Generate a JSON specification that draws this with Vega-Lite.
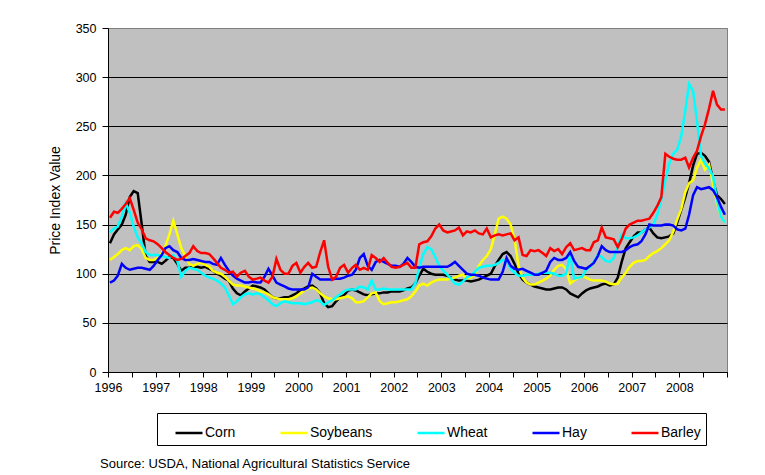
{
"$schema":"https://vega.github.io/schema/vega-lite/v6.json",
"width":619,"height":344,
"autosize":{"type":"none"},
"padding":{"left":108,"top":28,"right":38,"bottom":103},
"background":"#FFFFFF",
"title":{"text":"Source: USDA, National Agricultural Statistics Service","orient":"bottom","anchor":"start","frame":"group","dx":-8,"offset":12,"fontSize":13,"fontWeight":"normal","font":"Liberation Sans","color":"#000000"},
"config":{
"view":{"fill":"#C0C0C0","stroke":"#808080","strokeWidth":1},
"font":"Liberation Sans",
"axis":{"domainColor":"#000000","tickColor":"#000000","labelColor":"#000000","titleColor":"#000000","labelFont":"Liberation Sans","titleFont":"Liberation Sans"}
},
"data":{"values":[
{"d":"1996-01-16","s":"Corn","v":131},{"d":"1996-02-16","s":"Corn","v":140},{"d":"1996-03-16","s":"Corn","v":145},{"d":"1996-04-16","s":"Corn","v":150},{"d":"1996-05-16","s":"Corn","v":160},{"d":"1996-06-16","s":"Corn","v":178},{"d":"1996-07-16","s":"Corn","v":184},{"d":"1996-08-16","s":"Corn","v":182},{"d":"1996-09-16","s":"Corn","v":150},{"d":"1996-10-16","s":"Corn","v":118},{"d":"1996-11-16","s":"Corn","v":112},{"d":"1996-12-16","s":"Corn","v":112},
{"d":"1997-01-16","s":"Corn","v":112},{"d":"1997-02-16","s":"Corn","v":110},{"d":"1997-03-16","s":"Corn","v":113},{"d":"1997-04-16","s":"Corn","v":117},{"d":"1997-05-16","s":"Corn","v":116},{"d":"1997-06-16","s":"Corn","v":110},{"d":"1997-07-16","s":"Corn","v":103},{"d":"1997-08-16","s":"Corn","v":106},{"d":"1997-09-16","s":"Corn","v":106},{"d":"1997-10-16","s":"Corn","v":107},{"d":"1997-11-16","s":"Corn","v":107},{"d":"1997-12-16","s":"Corn","v":106},
{"d":"1998-01-16","s":"Corn","v":107},{"d":"1998-02-16","s":"Corn","v":105},{"d":"1998-03-16","s":"Corn","v":103},{"d":"1998-04-16","s":"Corn","v":100},{"d":"1998-05-16","s":"Corn","v":98},{"d":"1998-06-16","s":"Corn","v":95},{"d":"1998-07-16","s":"Corn","v":93},{"d":"1998-08-16","s":"Corn","v":85},{"d":"1998-09-16","s":"Corn","v":80},{"d":"1998-10-16","s":"Corn","v":78},{"d":"1998-11-16","s":"Corn","v":82},{"d":"1998-12-16","s":"Corn","v":85},
{"d":"1999-01-16","s":"Corn","v":88},{"d":"1999-02-16","s":"Corn","v":87},{"d":"1999-03-16","s":"Corn","v":86},{"d":"1999-04-16","s":"Corn","v":84},{"d":"1999-05-16","s":"Corn","v":80},{"d":"1999-06-16","s":"Corn","v":76},{"d":"1999-07-16","s":"Corn","v":75},{"d":"1999-08-16","s":"Corn","v":75},{"d":"1999-09-16","s":"Corn","v":76},{"d":"1999-10-16","s":"Corn","v":76},{"d":"1999-11-16","s":"Corn","v":78},{"d":"1999-12-16","s":"Corn","v":80},
{"d":"2000-01-16","s":"Corn","v":83},{"d":"2000-02-16","s":"Corn","v":85},{"d":"2000-03-16","s":"Corn","v":87},{"d":"2000-04-16","s":"Corn","v":88},{"d":"2000-05-16","s":"Corn","v":85},{"d":"2000-06-16","s":"Corn","v":80},{"d":"2000-07-16","s":"Corn","v":70},{"d":"2000-08-16","s":"Corn","v":66},{"d":"2000-09-16","s":"Corn","v":67},{"d":"2000-10-16","s":"Corn","v":72},{"d":"2000-11-16","s":"Corn","v":76},{"d":"2000-12-16","s":"Corn","v":78},
{"d":"2001-01-16","s":"Corn","v":83},{"d":"2001-02-16","s":"Corn","v":84},{"d":"2001-03-16","s":"Corn","v":83},{"d":"2001-04-16","s":"Corn","v":81},{"d":"2001-05-16","s":"Corn","v":79},{"d":"2001-06-16","s":"Corn","v":78},{"d":"2001-07-16","s":"Corn","v":79},{"d":"2001-08-16","s":"Corn","v":80},{"d":"2001-09-16","s":"Corn","v":80},{"d":"2001-10-16","s":"Corn","v":81},{"d":"2001-11-16","s":"Corn","v":81},{"d":"2001-12-16","s":"Corn","v":82},
{"d":"2002-01-16","s":"Corn","v":82},{"d":"2002-02-16","s":"Corn","v":82},{"d":"2002-03-16","s":"Corn","v":83},{"d":"2002-04-16","s":"Corn","v":85},{"d":"2002-05-16","s":"Corn","v":86},{"d":"2002-06-16","s":"Corn","v":90},{"d":"2002-07-16","s":"Corn","v":98},{"d":"2002-08-16","s":"Corn","v":105},{"d":"2002-09-16","s":"Corn","v":102},{"d":"2002-10-16","s":"Corn","v":100},{"d":"2002-11-16","s":"Corn","v":99},{"d":"2002-12-16","s":"Corn","v":99},
{"d":"2003-01-16","s":"Corn","v":99},{"d":"2003-02-16","s":"Corn","v":98},{"d":"2003-03-16","s":"Corn","v":96},{"d":"2003-04-16","s":"Corn","v":94},{"d":"2003-05-16","s":"Corn","v":93},{"d":"2003-06-16","s":"Corn","v":93},{"d":"2003-07-16","s":"Corn","v":93},{"d":"2003-08-16","s":"Corn","v":92},{"d":"2003-09-16","s":"Corn","v":93},{"d":"2003-10-16","s":"Corn","v":94},{"d":"2003-11-16","s":"Corn","v":96},{"d":"2003-12-16","s":"Corn","v":98},
{"d":"2004-01-16","s":"Corn","v":100},{"d":"2004-02-16","s":"Corn","v":108},{"d":"2004-03-16","s":"Corn","v":114},{"d":"2004-04-16","s":"Corn","v":120},{"d":"2004-05-16","s":"Corn","v":122},{"d":"2004-06-16","s":"Corn","v":118},{"d":"2004-07-16","s":"Corn","v":110},{"d":"2004-08-16","s":"Corn","v":100},{"d":"2004-09-16","s":"Corn","v":94},{"d":"2004-10-16","s":"Corn","v":91},{"d":"2004-11-16","s":"Corn","v":89},{"d":"2004-12-16","s":"Corn","v":87},
{"d":"2005-01-16","s":"Corn","v":86},{"d":"2005-02-16","s":"Corn","v":85},{"d":"2005-03-16","s":"Corn","v":84},{"d":"2005-04-16","s":"Corn","v":84},{"d":"2005-05-16","s":"Corn","v":85},{"d":"2005-06-16","s":"Corn","v":86},{"d":"2005-07-16","s":"Corn","v":86},{"d":"2005-08-16","s":"Corn","v":84},{"d":"2005-09-16","s":"Corn","v":80},{"d":"2005-10-16","s":"Corn","v":78},{"d":"2005-11-16","s":"Corn","v":76},{"d":"2005-12-16","s":"Corn","v":80},
{"d":"2006-01-16","s":"Corn","v":83},{"d":"2006-02-16","s":"Corn","v":85},{"d":"2006-03-16","s":"Corn","v":86},{"d":"2006-04-16","s":"Corn","v":87},{"d":"2006-05-16","s":"Corn","v":89},{"d":"2006-06-16","s":"Corn","v":90},{"d":"2006-07-16","s":"Corn","v":88},{"d":"2006-08-16","s":"Corn","v":89},{"d":"2006-09-16","s":"Corn","v":96},{"d":"2006-10-16","s":"Corn","v":112},{"d":"2006-11-16","s":"Corn","v":126},{"d":"2006-12-16","s":"Corn","v":132},
{"d":"2007-01-16","s":"Corn","v":138},{"d":"2007-02-16","s":"Corn","v":142},{"d":"2007-03-16","s":"Corn","v":142},{"d":"2007-04-16","s":"Corn","v":145},{"d":"2007-05-16","s":"Corn","v":147},{"d":"2007-06-16","s":"Corn","v":141},{"d":"2007-07-16","s":"Corn","v":137},{"d":"2007-08-16","s":"Corn","v":136},{"d":"2007-09-16","s":"Corn","v":137},{"d":"2007-10-16","s":"Corn","v":138},{"d":"2007-11-16","s":"Corn","v":141},{"d":"2007-12-16","s":"Corn","v":152},
{"d":"2008-01-16","s":"Corn","v":165},{"d":"2008-02-16","s":"Corn","v":178},{"d":"2008-03-16","s":"Corn","v":192},{"d":"2008-04-16","s":"Corn","v":210},{"d":"2008-05-16","s":"Corn","v":222},{"d":"2008-06-16","s":"Corn","v":223},{"d":"2008-07-16","s":"Corn","v":220},{"d":"2008-08-16","s":"Corn","v":214},{"d":"2008-09-16","s":"Corn","v":195},{"d":"2008-10-16","s":"Corn","v":180},{"d":"2008-11-16","s":"Corn","v":176},{"d":"2008-12-16","s":"Corn","v":171},
{"d":"1996-01-16","s":"Soybeans","v":114},{"d":"1996-02-16","s":"Soybeans","v":117},{"d":"1996-03-16","s":"Soybeans","v":120},{"d":"1996-04-16","s":"Soybeans","v":124},{"d":"1996-05-16","s":"Soybeans","v":126},{"d":"1996-06-16","s":"Soybeans","v":124},{"d":"1996-07-16","s":"Soybeans","v":128},{"d":"1996-08-16","s":"Soybeans","v":129},{"d":"1996-09-16","s":"Soybeans","v":125},{"d":"1996-10-16","s":"Soybeans","v":116},{"d":"1996-11-16","s":"Soybeans","v":114},{"d":"1996-12-16","s":"Soybeans","v":114},
{"d":"1997-01-16","s":"Soybeans","v":116},{"d":"1997-02-16","s":"Soybeans","v":121},{"d":"1997-03-16","s":"Soybeans","v":128},{"d":"1997-04-16","s":"Soybeans","v":140},{"d":"1997-05-16","s":"Soybeans","v":154},{"d":"1997-06-16","s":"Soybeans","v":140},{"d":"1997-07-16","s":"Soybeans","v":126},{"d":"1997-08-16","s":"Soybeans","v":118},{"d":"1997-09-16","s":"Soybeans","v":110},{"d":"1997-10-16","s":"Soybeans","v":108},{"d":"1997-11-16","s":"Soybeans","v":110},{"d":"1997-12-16","s":"Soybeans","v":111},
{"d":"1998-01-16","s":"Soybeans","v":109},{"d":"1998-02-16","s":"Soybeans","v":107},{"d":"1998-03-16","s":"Soybeans","v":103},{"d":"1998-04-16","s":"Soybeans","v":101},{"d":"1998-05-16","s":"Soybeans","v":100},{"d":"1998-06-16","s":"Soybeans","v":97},{"d":"1998-07-16","s":"Soybeans","v":93},{"d":"1998-08-16","s":"Soybeans","v":89},{"d":"1998-09-16","s":"Soybeans","v":88},{"d":"1998-10-16","s":"Soybeans","v":88},{"d":"1998-11-16","s":"Soybeans","v":87},{"d":"1998-12-16","s":"Soybeans","v":86},
{"d":"1999-01-16","s":"Soybeans","v":85},{"d":"1999-02-16","s":"Soybeans","v":84},{"d":"1999-03-16","s":"Soybeans","v":82},{"d":"1999-04-16","s":"Soybeans","v":81},{"d":"1999-05-16","s":"Soybeans","v":79},{"d":"1999-06-16","s":"Soybeans","v":76},{"d":"1999-07-16","s":"Soybeans","v":75},{"d":"1999-08-16","s":"Soybeans","v":74},{"d":"1999-09-16","s":"Soybeans","v":74},{"d":"1999-10-16","s":"Soybeans","v":74},{"d":"1999-11-16","s":"Soybeans","v":75},{"d":"1999-12-16","s":"Soybeans","v":77},
{"d":"2000-01-16","s":"Soybeans","v":80},{"d":"2000-02-16","s":"Soybeans","v":83},{"d":"2000-03-16","s":"Soybeans","v":85},{"d":"2000-04-16","s":"Soybeans","v":86},{"d":"2000-05-16","s":"Soybeans","v":84},{"d":"2000-06-16","s":"Soybeans","v":80},{"d":"2000-07-16","s":"Soybeans","v":77},{"d":"2000-08-16","s":"Soybeans","v":75},{"d":"2000-09-16","s":"Soybeans","v":74},{"d":"2000-10-16","s":"Soybeans","v":74},{"d":"2000-11-16","s":"Soybeans","v":75},{"d":"2000-12-16","s":"Soybeans","v":76},
{"d":"2001-01-16","s":"Soybeans","v":77},{"d":"2001-02-16","s":"Soybeans","v":75},{"d":"2001-03-16","s":"Soybeans","v":71},{"d":"2001-04-16","s":"Soybeans","v":71},{"d":"2001-05-16","s":"Soybeans","v":72},{"d":"2001-06-16","s":"Soybeans","v":76},{"d":"2001-07-16","s":"Soybeans","v":80},{"d":"2001-08-16","s":"Soybeans","v":81},{"d":"2001-09-16","s":"Soybeans","v":72},{"d":"2001-10-16","s":"Soybeans","v":69},{"d":"2001-11-16","s":"Soybeans","v":70},{"d":"2001-12-16","s":"Soybeans","v":71},
{"d":"2002-01-16","s":"Soybeans","v":71},{"d":"2002-02-16","s":"Soybeans","v":72},{"d":"2002-03-16","s":"Soybeans","v":73},{"d":"2002-04-16","s":"Soybeans","v":74},{"d":"2002-05-16","s":"Soybeans","v":77},{"d":"2002-06-16","s":"Soybeans","v":82},{"d":"2002-07-16","s":"Soybeans","v":88},{"d":"2002-08-16","s":"Soybeans","v":90},{"d":"2002-09-16","s":"Soybeans","v":88},{"d":"2002-10-16","s":"Soybeans","v":91},{"d":"2002-11-16","s":"Soybeans","v":93},{"d":"2002-12-16","s":"Soybeans","v":94},
{"d":"2003-01-16","s":"Soybeans","v":94},{"d":"2003-02-16","s":"Soybeans","v":94},{"d":"2003-03-16","s":"Soybeans","v":95},{"d":"2003-04-16","s":"Soybeans","v":96},{"d":"2003-05-16","s":"Soybeans","v":98},{"d":"2003-06-16","s":"Soybeans","v":99},{"d":"2003-07-16","s":"Soybeans","v":95},{"d":"2003-08-16","s":"Soybeans","v":96},{"d":"2003-09-16","s":"Soybeans","v":99},{"d":"2003-10-16","s":"Soybeans","v":108},{"d":"2003-11-16","s":"Soybeans","v":114},{"d":"2003-12-16","s":"Soybeans","v":118},
{"d":"2004-01-16","s":"Soybeans","v":125},{"d":"2004-02-16","s":"Soybeans","v":140},{"d":"2004-03-16","s":"Soybeans","v":156},{"d":"2004-04-16","s":"Soybeans","v":158},{"d":"2004-05-16","s":"Soybeans","v":156},{"d":"2004-06-16","s":"Soybeans","v":150},{"d":"2004-07-16","s":"Soybeans","v":135},{"d":"2004-08-16","s":"Soybeans","v":108},{"d":"2004-09-16","s":"Soybeans","v":96},{"d":"2004-10-16","s":"Soybeans","v":91},{"d":"2004-11-16","s":"Soybeans","v":89},{"d":"2004-12-16","s":"Soybeans","v":89},
{"d":"2005-01-16","s":"Soybeans","v":91},{"d":"2005-02-16","s":"Soybeans","v":93},{"d":"2005-03-16","s":"Soybeans","v":95},{"d":"2005-04-16","s":"Soybeans","v":98},{"d":"2005-05-16","s":"Soybeans","v":104},{"d":"2005-06-16","s":"Soybeans","v":108},{"d":"2005-07-16","s":"Soybeans","v":109},{"d":"2005-08-16","s":"Soybeans","v":105},{"d":"2005-09-16","s":"Soybeans","v":90},{"d":"2005-10-16","s":"Soybeans","v":93},{"d":"2005-11-16","s":"Soybeans","v":96},{"d":"2005-12-16","s":"Soybeans","v":97},
{"d":"2006-01-16","s":"Soybeans","v":96},{"d":"2006-02-16","s":"Soybeans","v":94},{"d":"2006-03-16","s":"Soybeans","v":93},{"d":"2006-04-16","s":"Soybeans","v":93},{"d":"2006-05-16","s":"Soybeans","v":93},{"d":"2006-06-16","s":"Soybeans","v":92},{"d":"2006-07-16","s":"Soybeans","v":90},{"d":"2006-08-16","s":"Soybeans","v":89},{"d":"2006-09-16","s":"Soybeans","v":90},{"d":"2006-10-16","s":"Soybeans","v":96},{"d":"2006-11-16","s":"Soybeans","v":101},{"d":"2006-12-16","s":"Soybeans","v":107},
{"d":"2007-01-16","s":"Soybeans","v":111},{"d":"2007-02-16","s":"Soybeans","v":113},{"d":"2007-03-16","s":"Soybeans","v":113},{"d":"2007-04-16","s":"Soybeans","v":114},{"d":"2007-05-16","s":"Soybeans","v":118},{"d":"2007-06-16","s":"Soybeans","v":121},{"d":"2007-07-16","s":"Soybeans","v":123},{"d":"2007-08-16","s":"Soybeans","v":126},{"d":"2007-09-16","s":"Soybeans","v":130},{"d":"2007-10-16","s":"Soybeans","v":134},{"d":"2007-11-16","s":"Soybeans","v":143},{"d":"2007-12-16","s":"Soybeans","v":155},
{"d":"2008-01-16","s":"Soybeans","v":166},{"d":"2008-02-16","s":"Soybeans","v":183},{"d":"2008-03-16","s":"Soybeans","v":192},{"d":"2008-04-16","s":"Soybeans","v":195},{"d":"2008-05-16","s":"Soybeans","v":208},{"d":"2008-06-16","s":"Soybeans","v":216},{"d":"2008-07-16","s":"Soybeans","v":206},{"d":"2008-08-16","s":"Soybeans","v":211},{"d":"2008-09-16","s":"Soybeans","v":191},{"d":"2008-10-16","s":"Soybeans","v":172},{"d":"2008-11-16","s":"Soybeans","v":158},{"d":"2008-12-16","s":"Soybeans","v":152},
{"d":"1996-01-16","s":"Wheat","v":142},{"d":"1996-02-16","s":"Wheat","v":146},{"d":"1996-03-16","s":"Wheat","v":148},{"d":"1996-04-16","s":"Wheat","v":158},{"d":"1996-05-16","s":"Wheat","v":172},{"d":"1996-06-16","s":"Wheat","v":162},{"d":"1996-07-16","s":"Wheat","v":148},{"d":"1996-08-16","s":"Wheat","v":137},{"d":"1996-09-16","s":"Wheat","v":131},{"d":"1996-10-16","s":"Wheat","v":122},{"d":"1996-11-16","s":"Wheat","v":119},{"d":"1996-12-16","s":"Wheat","v":119},
{"d":"1997-01-16","s":"Wheat","v":119},{"d":"1997-02-16","s":"Wheat","v":118},{"d":"1997-03-16","s":"Wheat","v":117},{"d":"1997-04-16","s":"Wheat","v":116},{"d":"1997-05-16","s":"Wheat","v":119},{"d":"1997-06-16","s":"Wheat","v":113},{"d":"1997-07-16","s":"Wheat","v":97},{"d":"1997-08-16","s":"Wheat","v":103},{"d":"1997-09-16","s":"Wheat","v":106},{"d":"1997-10-16","s":"Wheat","v":105},{"d":"1997-11-16","s":"Wheat","v":104},{"d":"1997-12-16","s":"Wheat","v":101},
{"d":"1998-01-16","s":"Wheat","v":98},{"d":"1998-02-16","s":"Wheat","v":96},{"d":"1998-03-16","s":"Wheat","v":95},{"d":"1998-04-16","s":"Wheat","v":93},{"d":"1998-05-16","s":"Wheat","v":90},{"d":"1998-06-16","s":"Wheat","v":86},{"d":"1998-07-16","s":"Wheat","v":78},{"d":"1998-08-16","s":"Wheat","v":69},{"d":"1998-09-16","s":"Wheat","v":72},{"d":"1998-10-16","s":"Wheat","v":76},{"d":"1998-11-16","s":"Wheat","v":79},{"d":"1998-12-16","s":"Wheat","v":80},
{"d":"1999-01-16","s":"Wheat","v":79},{"d":"1999-02-16","s":"Wheat","v":80},{"d":"1999-03-16","s":"Wheat","v":79},{"d":"1999-04-16","s":"Wheat","v":76},{"d":"1999-05-16","s":"Wheat","v":73},{"d":"1999-06-16","s":"Wheat","v":69},{"d":"1999-07-16","s":"Wheat","v":67},{"d":"1999-08-16","s":"Wheat","v":70},{"d":"1999-09-16","s":"Wheat","v":72},{"d":"1999-10-16","s":"Wheat","v":71},{"d":"1999-11-16","s":"Wheat","v":70},{"d":"1999-12-16","s":"Wheat","v":70},
{"d":"2000-01-16","s":"Wheat","v":70},{"d":"2000-02-16","s":"Wheat","v":69},{"d":"2000-03-16","s":"Wheat","v":70},{"d":"2000-04-16","s":"Wheat","v":71},{"d":"2000-05-16","s":"Wheat","v":73},{"d":"2000-06-16","s":"Wheat","v":72},{"d":"2000-07-16","s":"Wheat","v":68},{"d":"2000-08-16","s":"Wheat","v":71},{"d":"2000-09-16","s":"Wheat","v":73},{"d":"2000-10-16","s":"Wheat","v":76},{"d":"2000-11-16","s":"Wheat","v":79},{"d":"2000-12-16","s":"Wheat","v":82},
{"d":"2001-01-16","s":"Wheat","v":84},{"d":"2001-02-16","s":"Wheat","v":84},{"d":"2001-03-16","s":"Wheat","v":84},{"d":"2001-04-16","s":"Wheat","v":87},{"d":"2001-05-16","s":"Wheat","v":86},{"d":"2001-06-16","s":"Wheat","v":84},{"d":"2001-07-16","s":"Wheat","v":93},{"d":"2001-08-16","s":"Wheat","v":84},{"d":"2001-09-16","s":"Wheat","v":84},{"d":"2001-10-16","s":"Wheat","v":85},{"d":"2001-11-16","s":"Wheat","v":84},{"d":"2001-12-16","s":"Wheat","v":84},
{"d":"2002-01-16","s":"Wheat","v":84},{"d":"2002-02-16","s":"Wheat","v":84},{"d":"2002-03-16","s":"Wheat","v":84},{"d":"2002-04-16","s":"Wheat","v":84},{"d":"2002-05-16","s":"Wheat","v":84},{"d":"2002-06-16","s":"Wheat","v":90},{"d":"2002-07-16","s":"Wheat","v":106},{"d":"2002-08-16","s":"Wheat","v":120},{"d":"2002-09-16","s":"Wheat","v":127},{"d":"2002-10-16","s":"Wheat","v":125},{"d":"2002-11-16","s":"Wheat","v":117},{"d":"2002-12-16","s":"Wheat","v":108},
{"d":"2003-01-16","s":"Wheat","v":103},{"d":"2003-02-16","s":"Wheat","v":99},{"d":"2003-03-16","s":"Wheat","v":95},{"d":"2003-04-16","s":"Wheat","v":90},{"d":"2003-05-16","s":"Wheat","v":89},{"d":"2003-06-16","s":"Wheat","v":92},{"d":"2003-07-16","s":"Wheat","v":96},{"d":"2003-08-16","s":"Wheat","v":98},{"d":"2003-09-16","s":"Wheat","v":102},{"d":"2003-10-16","s":"Wheat","v":106},{"d":"2003-11-16","s":"Wheat","v":107},{"d":"2003-12-16","s":"Wheat","v":108},
{"d":"2004-01-16","s":"Wheat","v":108},{"d":"2004-02-16","s":"Wheat","v":109},{"d":"2004-03-16","s":"Wheat","v":111},{"d":"2004-04-16","s":"Wheat","v":114},{"d":"2004-05-16","s":"Wheat","v":113},{"d":"2004-06-16","s":"Wheat","v":105},{"d":"2004-07-16","s":"Wheat","v":101},{"d":"2004-08-16","s":"Wheat","v":98},{"d":"2004-09-16","s":"Wheat","v":98},{"d":"2004-10-16","s":"Wheat","v":99},{"d":"2004-11-16","s":"Wheat","v":99},{"d":"2004-12-16","s":"Wheat","v":99},
{"d":"2005-01-16","s":"Wheat","v":100},{"d":"2005-02-16","s":"Wheat","v":101},{"d":"2005-03-16","s":"Wheat","v":101},{"d":"2005-04-16","s":"Wheat","v":101},{"d":"2005-05-16","s":"Wheat","v":100},{"d":"2005-06-16","s":"Wheat","v":98},{"d":"2005-07-16","s":"Wheat","v":98},{"d":"2005-08-16","s":"Wheat","v":100},{"d":"2005-09-16","s":"Wheat","v":120},{"d":"2005-10-16","s":"Wheat","v":95},{"d":"2005-11-16","s":"Wheat","v":96},{"d":"2005-12-16","s":"Wheat","v":97},
{"d":"2006-01-16","s":"Wheat","v":104},{"d":"2006-02-16","s":"Wheat","v":107},{"d":"2006-03-16","s":"Wheat","v":112},{"d":"2006-04-16","s":"Wheat","v":119},{"d":"2006-05-16","s":"Wheat","v":117},{"d":"2006-06-16","s":"Wheat","v":113},{"d":"2006-07-16","s":"Wheat","v":112},{"d":"2006-08-16","s":"Wheat","v":116},{"d":"2006-09-16","s":"Wheat","v":128},{"d":"2006-10-16","s":"Wheat","v":140},{"d":"2006-11-16","s":"Wheat","v":136},{"d":"2006-12-16","s":"Wheat","v":136},
{"d":"2007-01-16","s":"Wheat","v":137},{"d":"2007-02-16","s":"Wheat","v":139},{"d":"2007-03-16","s":"Wheat","v":142},{"d":"2007-04-16","s":"Wheat","v":145},{"d":"2007-05-16","s":"Wheat","v":147},{"d":"2007-06-16","s":"Wheat","v":150},{"d":"2007-07-16","s":"Wheat","v":160},{"d":"2007-08-16","s":"Wheat","v":175},{"d":"2007-09-16","s":"Wheat","v":195},{"d":"2007-10-16","s":"Wheat","v":212},{"d":"2007-11-16","s":"Wheat","v":222},{"d":"2007-12-16","s":"Wheat","v":226},
{"d":"2008-01-16","s":"Wheat","v":240},{"d":"2008-02-16","s":"Wheat","v":266},{"d":"2008-03-16","s":"Wheat","v":293},{"d":"2008-04-16","s":"Wheat","v":286},{"d":"2008-05-16","s":"Wheat","v":255},{"d":"2008-06-16","s":"Wheat","v":220},{"d":"2008-07-16","s":"Wheat","v":212},{"d":"2008-08-16","s":"Wheat","v":207},{"d":"2008-09-16","s":"Wheat","v":199},{"d":"2008-10-16","s":"Wheat","v":175},{"d":"2008-11-16","s":"Wheat","v":158},{"d":"2008-12-16","s":"Wheat","v":152},
{"d":"1996-01-16","s":"Hay","v":91},{"d":"1996-02-16","s":"Hay","v":93},{"d":"1996-03-16","s":"Hay","v":98},{"d":"1996-04-16","s":"Hay","v":110},{"d":"1996-05-16","s":"Hay","v":106},{"d":"1996-06-16","s":"Hay","v":104},{"d":"1996-07-16","s":"Hay","v":105},{"d":"1996-08-16","s":"Hay","v":106},{"d":"1996-09-16","s":"Hay","v":106},{"d":"1996-10-16","s":"Hay","v":105},{"d":"1996-11-16","s":"Hay","v":104},{"d":"1996-12-16","s":"Hay","v":108},
{"d":"1997-01-16","s":"Hay","v":114},{"d":"1997-02-16","s":"Hay","v":119},{"d":"1997-03-16","s":"Hay","v":126},{"d":"1997-04-16","s":"Hay","v":128},{"d":"1997-05-16","s":"Hay","v":124},{"d":"1997-06-16","s":"Hay","v":122},{"d":"1997-07-16","s":"Hay","v":116},{"d":"1997-08-16","s":"Hay","v":114},{"d":"1997-09-16","s":"Hay","v":114},{"d":"1997-10-16","s":"Hay","v":115},{"d":"1997-11-16","s":"Hay","v":114},{"d":"1997-12-16","s":"Hay","v":113},
{"d":"1998-01-16","s":"Hay","v":112},{"d":"1998-02-16","s":"Hay","v":112},{"d":"1998-03-16","s":"Hay","v":110},{"d":"1998-04-16","s":"Hay","v":109},{"d":"1998-05-16","s":"Hay","v":116},{"d":"1998-06-16","s":"Hay","v":109},{"d":"1998-07-16","s":"Hay","v":103},{"d":"1998-08-16","s":"Hay","v":98},{"d":"1998-09-16","s":"Hay","v":95},{"d":"1998-10-16","s":"Hay","v":93},{"d":"1998-11-16","s":"Hay","v":91},{"d":"1998-12-16","s":"Hay","v":91},
{"d":"1999-01-16","s":"Hay","v":92},{"d":"1999-02-16","s":"Hay","v":91},{"d":"1999-03-16","s":"Hay","v":91},{"d":"1999-04-16","s":"Hay","v":97},{"d":"1999-05-16","s":"Hay","v":105},{"d":"1999-06-16","s":"Hay","v":98},{"d":"1999-07-16","s":"Hay","v":91},{"d":"1999-08-16","s":"Hay","v":89},{"d":"1999-09-16","s":"Hay","v":87},{"d":"1999-10-16","s":"Hay","v":85},{"d":"1999-11-16","s":"Hay","v":84},{"d":"1999-12-16","s":"Hay","v":84},
{"d":"2000-01-16","s":"Hay","v":84},{"d":"2000-02-16","s":"Hay","v":84},{"d":"2000-03-16","s":"Hay","v":86},{"d":"2000-04-16","s":"Hay","v":100},{"d":"2000-05-16","s":"Hay","v":97},{"d":"2000-06-16","s":"Hay","v":94},{"d":"2000-07-16","s":"Hay","v":94},{"d":"2000-08-16","s":"Hay","v":94},{"d":"2000-09-16","s":"Hay","v":94},{"d":"2000-10-16","s":"Hay","v":95},{"d":"2000-11-16","s":"Hay","v":95},{"d":"2000-12-16","s":"Hay","v":96},
{"d":"2001-01-16","s":"Hay","v":98},{"d":"2001-02-16","s":"Hay","v":99},{"d":"2001-03-16","s":"Hay","v":104},{"d":"2001-04-16","s":"Hay","v":116},{"d":"2001-05-16","s":"Hay","v":120},{"d":"2001-06-16","s":"Hay","v":108},{"d":"2001-07-16","s":"Hay","v":104},{"d":"2001-08-16","s":"Hay","v":112},{"d":"2001-09-16","s":"Hay","v":114},{"d":"2001-10-16","s":"Hay","v":112},{"d":"2001-11-16","s":"Hay","v":110},{"d":"2001-12-16","s":"Hay","v":108},
{"d":"2002-01-16","s":"Hay","v":108},{"d":"2002-02-16","s":"Hay","v":107},{"d":"2002-03-16","s":"Hay","v":110},{"d":"2002-04-16","s":"Hay","v":116},{"d":"2002-05-16","s":"Hay","v":112},{"d":"2002-06-16","s":"Hay","v":107},{"d":"2002-07-16","s":"Hay","v":106},{"d":"2002-08-16","s":"Hay","v":107},{"d":"2002-09-16","s":"Hay","v":107},{"d":"2002-10-16","s":"Hay","v":107},{"d":"2002-11-16","s":"Hay","v":107},{"d":"2002-12-16","s":"Hay","v":107},
{"d":"2003-01-16","s":"Hay","v":107},{"d":"2003-02-16","s":"Hay","v":107},{"d":"2003-03-16","s":"Hay","v":109},{"d":"2003-04-16","s":"Hay","v":112},{"d":"2003-05-16","s":"Hay","v":108},{"d":"2003-06-16","s":"Hay","v":104},{"d":"2003-07-16","s":"Hay","v":100},{"d":"2003-08-16","s":"Hay","v":99},{"d":"2003-09-16","s":"Hay","v":99},{"d":"2003-10-16","s":"Hay","v":98},{"d":"2003-11-16","s":"Hay","v":96},{"d":"2003-12-16","s":"Hay","v":95},
{"d":"2004-01-16","s":"Hay","v":94},{"d":"2004-02-16","s":"Hay","v":94},{"d":"2004-03-16","s":"Hay","v":94},{"d":"2004-04-16","s":"Hay","v":102},{"d":"2004-05-16","s":"Hay","v":116},{"d":"2004-06-16","s":"Hay","v":108},{"d":"2004-07-16","s":"Hay","v":105},{"d":"2004-08-16","s":"Hay","v":104},{"d":"2004-09-16","s":"Hay","v":105},{"d":"2004-10-16","s":"Hay","v":103},{"d":"2004-11-16","s":"Hay","v":101},{"d":"2004-12-16","s":"Hay","v":99},
{"d":"2005-01-16","s":"Hay","v":99},{"d":"2005-02-16","s":"Hay","v":101},{"d":"2005-03-16","s":"Hay","v":103},{"d":"2005-04-16","s":"Hay","v":112},{"d":"2005-05-16","s":"Hay","v":116},{"d":"2005-06-16","s":"Hay","v":114},{"d":"2005-07-16","s":"Hay","v":114},{"d":"2005-08-16","s":"Hay","v":116},{"d":"2005-09-16","s":"Hay","v":122},{"d":"2005-10-16","s":"Hay","v":113},{"d":"2005-11-16","s":"Hay","v":107},{"d":"2005-12-16","s":"Hay","v":106},
{"d":"2006-01-16","s":"Hay","v":105},{"d":"2006-02-16","s":"Hay","v":108},{"d":"2006-03-16","s":"Hay","v":111},{"d":"2006-04-16","s":"Hay","v":118},{"d":"2006-05-16","s":"Hay","v":128},{"d":"2006-06-16","s":"Hay","v":124},{"d":"2006-07-16","s":"Hay","v":122},{"d":"2006-08-16","s":"Hay","v":122},{"d":"2006-09-16","s":"Hay","v":122},{"d":"2006-10-16","s":"Hay","v":122},{"d":"2006-11-16","s":"Hay","v":124},{"d":"2006-12-16","s":"Hay","v":127},
{"d":"2007-01-16","s":"Hay","v":129},{"d":"2007-02-16","s":"Hay","v":130},{"d":"2007-03-16","s":"Hay","v":133},{"d":"2007-04-16","s":"Hay","v":140},{"d":"2007-05-16","s":"Hay","v":150},{"d":"2007-06-16","s":"Hay","v":149},{"d":"2007-07-16","s":"Hay","v":149},{"d":"2007-08-16","s":"Hay","v":149},{"d":"2007-09-16","s":"Hay","v":150},{"d":"2007-10-16","s":"Hay","v":150},{"d":"2007-11-16","s":"Hay","v":149},{"d":"2007-12-16","s":"Hay","v":145},
{"d":"2008-01-16","s":"Hay","v":144},{"d":"2008-02-16","s":"Hay","v":146},{"d":"2008-03-16","s":"Hay","v":160},{"d":"2008-04-16","s":"Hay","v":180},{"d":"2008-05-16","s":"Hay","v":188},{"d":"2008-06-16","s":"Hay","v":186},{"d":"2008-07-16","s":"Hay","v":187},{"d":"2008-08-16","s":"Hay","v":188},{"d":"2008-09-16","s":"Hay","v":185},{"d":"2008-10-16","s":"Hay","v":178},{"d":"2008-11-16","s":"Hay","v":168},{"d":"2008-12-16","s":"Hay","v":160},
{"d":"1996-01-16","s":"Barley","v":157},{"d":"1996-02-16","s":"Barley","v":163},{"d":"1996-03-16","s":"Barley","v":162},{"d":"1996-04-16","s":"Barley","v":166},{"d":"1996-05-16","s":"Barley","v":171},{"d":"1996-06-16","s":"Barley","v":177},{"d":"1996-07-16","s":"Barley","v":165},{"d":"1996-08-16","s":"Barley","v":152},{"d":"1996-09-16","s":"Barley","v":145},{"d":"1996-10-16","s":"Barley","v":136},{"d":"1996-11-16","s":"Barley","v":134},{"d":"1996-12-16","s":"Barley","v":133},
{"d":"1997-01-16","s":"Barley","v":130},{"d":"1997-02-16","s":"Barley","v":126},{"d":"1997-03-16","s":"Barley","v":122},{"d":"1997-04-16","s":"Barley","v":119},{"d":"1997-05-16","s":"Barley","v":116},{"d":"1997-06-16","s":"Barley","v":114},{"d":"1997-07-16","s":"Barley","v":115},{"d":"1997-08-16","s":"Barley","v":118},{"d":"1997-09-16","s":"Barley","v":121},{"d":"1997-10-16","s":"Barley","v":128},{"d":"1997-11-16","s":"Barley","v":123},{"d":"1997-12-16","s":"Barley","v":121},
{"d":"1998-01-16","s":"Barley","v":121},{"d":"1998-02-16","s":"Barley","v":120},{"d":"1998-03-16","s":"Barley","v":116},{"d":"1998-04-16","s":"Barley","v":111},{"d":"1998-05-16","s":"Barley","v":106},{"d":"1998-06-16","s":"Barley","v":104},{"d":"1998-07-16","s":"Barley","v":101},{"d":"1998-08-16","s":"Barley","v":102},{"d":"1998-09-16","s":"Barley","v":97},{"d":"1998-10-16","s":"Barley","v":101},{"d":"1998-11-16","s":"Barley","v":103},{"d":"1998-12-16","s":"Barley","v":97},
{"d":"1999-01-16","s":"Barley","v":94},{"d":"1999-02-16","s":"Barley","v":95},{"d":"1999-03-16","s":"Barley","v":96},{"d":"1999-04-16","s":"Barley","v":93},{"d":"1999-05-16","s":"Barley","v":91},{"d":"1999-06-16","s":"Barley","v":97},{"d":"1999-07-16","s":"Barley","v":115},{"d":"1999-08-16","s":"Barley","v":104},{"d":"1999-09-16","s":"Barley","v":100},{"d":"1999-10-16","s":"Barley","v":100},{"d":"1999-11-16","s":"Barley","v":108},{"d":"1999-12-16","s":"Barley","v":111},
{"d":"2000-01-16","s":"Barley","v":101},{"d":"2000-02-16","s":"Barley","v":107},{"d":"2000-03-16","s":"Barley","v":111},{"d":"2000-04-16","s":"Barley","v":106},{"d":"2000-05-16","s":"Barley","v":107},{"d":"2000-06-16","s":"Barley","v":122},{"d":"2000-07-16","s":"Barley","v":134},{"d":"2000-08-16","s":"Barley","v":107},{"d":"2000-09-16","s":"Barley","v":94},{"d":"2000-10-16","s":"Barley","v":97},{"d":"2000-11-16","s":"Barley","v":106},{"d":"2000-12-16","s":"Barley","v":109},
{"d":"2001-01-16","s":"Barley","v":101},{"d":"2001-02-16","s":"Barley","v":106},{"d":"2001-03-16","s":"Barley","v":109},{"d":"2001-04-16","s":"Barley","v":104},{"d":"2001-05-16","s":"Barley","v":106},{"d":"2001-06-16","s":"Barley","v":104},{"d":"2001-07-16","s":"Barley","v":119},{"d":"2001-08-16","s":"Barley","v":116},{"d":"2001-09-16","s":"Barley","v":112},{"d":"2001-10-16","s":"Barley","v":116},{"d":"2001-11-16","s":"Barley","v":111},{"d":"2001-12-16","s":"Barley","v":107},
{"d":"2002-01-16","s":"Barley","v":106},{"d":"2002-02-16","s":"Barley","v":107},{"d":"2002-03-16","s":"Barley","v":109},{"d":"2002-04-16","s":"Barley","v":111},{"d":"2002-05-16","s":"Barley","v":106},{"d":"2002-06-16","s":"Barley","v":106},{"d":"2002-07-16","s":"Barley","v":130},{"d":"2002-08-16","s":"Barley","v":132},{"d":"2002-09-16","s":"Barley","v":133},{"d":"2002-10-16","s":"Barley","v":138},{"d":"2002-11-16","s":"Barley","v":146},{"d":"2002-12-16","s":"Barley","v":150},
{"d":"2003-01-16","s":"Barley","v":144},{"d":"2003-02-16","s":"Barley","v":142},{"d":"2003-03-16","s":"Barley","v":143},{"d":"2003-04-16","s":"Barley","v":144},{"d":"2003-05-16","s":"Barley","v":147},{"d":"2003-06-16","s":"Barley","v":139},{"d":"2003-07-16","s":"Barley","v":143},{"d":"2003-08-16","s":"Barley","v":142},{"d":"2003-09-16","s":"Barley","v":144},{"d":"2003-10-16","s":"Barley","v":141},{"d":"2003-11-16","s":"Barley","v":140},{"d":"2003-12-16","s":"Barley","v":146},
{"d":"2004-01-16","s":"Barley","v":137},{"d":"2004-02-16","s":"Barley","v":139},{"d":"2004-03-16","s":"Barley","v":140},{"d":"2004-04-16","s":"Barley","v":139},{"d":"2004-05-16","s":"Barley","v":140},{"d":"2004-06-16","s":"Barley","v":141},{"d":"2004-07-16","s":"Barley","v":134},{"d":"2004-08-16","s":"Barley","v":137},{"d":"2004-09-16","s":"Barley","v":119},{"d":"2004-10-16","s":"Barley","v":118},{"d":"2004-11-16","s":"Barley","v":124},{"d":"2004-12-16","s":"Barley","v":123},
{"d":"2005-01-16","s":"Barley","v":124},{"d":"2005-02-16","s":"Barley","v":121},{"d":"2005-03-16","s":"Barley","v":118},{"d":"2005-04-16","s":"Barley","v":126},{"d":"2005-05-16","s":"Barley","v":123},{"d":"2005-06-16","s":"Barley","v":125},{"d":"2005-07-16","s":"Barley","v":120},{"d":"2005-08-16","s":"Barley","v":127},{"d":"2005-09-16","s":"Barley","v":131},{"d":"2005-10-16","s":"Barley","v":124},{"d":"2005-11-16","s":"Barley","v":125},{"d":"2005-12-16","s":"Barley","v":126},
{"d":"2006-01-16","s":"Barley","v":124},{"d":"2006-02-16","s":"Barley","v":124},{"d":"2006-03-16","s":"Barley","v":132},{"d":"2006-04-16","s":"Barley","v":134},{"d":"2006-05-16","s":"Barley","v":147},{"d":"2006-06-16","s":"Barley","v":137},{"d":"2006-07-16","s":"Barley","v":136},{"d":"2006-08-16","s":"Barley","v":135},{"d":"2006-09-16","s":"Barley","v":127},{"d":"2006-10-16","s":"Barley","v":135},{"d":"2006-11-16","s":"Barley","v":146},{"d":"2006-12-16","s":"Barley","v":150},
{"d":"2007-01-16","s":"Barley","v":152},{"d":"2007-02-16","s":"Barley","v":154},{"d":"2007-03-16","s":"Barley","v":154},{"d":"2007-04-16","s":"Barley","v":155},{"d":"2007-05-16","s":"Barley","v":156},{"d":"2007-06-16","s":"Barley","v":162},{"d":"2007-07-16","s":"Barley","v":169},{"d":"2007-08-16","s":"Barley","v":178},{"d":"2007-09-16","s":"Barley","v":222},{"d":"2007-10-16","s":"Barley","v":219},{"d":"2007-11-16","s":"Barley","v":217},{"d":"2007-12-16","s":"Barley","v":216},
{"d":"2008-01-16","s":"Barley","v":216},{"d":"2008-02-16","s":"Barley","v":218},{"d":"2008-03-16","s":"Barley","v":208},{"d":"2008-04-16","s":"Barley","v":218},{"d":"2008-05-16","s":"Barley","v":225},{"d":"2008-06-16","s":"Barley","v":240},{"d":"2008-07-16","s":"Barley","v":252},{"d":"2008-08-16","s":"Barley","v":268},{"d":"2008-09-16","s":"Barley","v":286},{"d":"2008-10-16","s":"Barley","v":272},{"d":"2008-11-16","s":"Barley","v":267},{"d":"2008-12-16","s":"Barley","v":267}
]},
"mark":{"type":"line","strokeWidth":2.5},
"encoding":{
"x":{"field":"d","type":"temporal","scale":{"type":"utc","domain":[{"year":1996,"month":1,"date":1,"utc":true},{"year":2009,"month":1,"date":1,"utc":true}]},
"axis":{"title":null,"grid":false,"tickSize":5,"labelPadding":4,"labelFontSize":12.5,"domainWidth":1,"labelFlush":false,"labelOverlap":false,"labelBound":false,
"values":[{"year":1996,"month":1,"date":1,"utc":true},{"year":1996,"month":7,"date":1,"utc":true},{"year":1997,"month":1,"date":1,"utc":true},{"year":1997,"month":7,"date":1,"utc":true},{"year":1998,"month":1,"date":1,"utc":true},{"year":1998,"month":7,"date":1,"utc":true},{"year":1999,"month":1,"date":1,"utc":true},{"year":1999,"month":7,"date":1,"utc":true},{"year":2000,"month":1,"date":1,"utc":true},{"year":2000,"month":7,"date":1,"utc":true},{"year":2001,"month":1,"date":1,"utc":true},{"year":2001,"month":7,"date":1,"utc":true},{"year":2002,"month":1,"date":1,"utc":true},{"year":2002,"month":7,"date":1,"utc":true},{"year":2003,"month":1,"date":1,"utc":true},{"year":2003,"month":7,"date":1,"utc":true},{"year":2004,"month":1,"date":1,"utc":true},{"year":2004,"month":7,"date":1,"utc":true},{"year":2005,"month":1,"date":1,"utc":true},{"year":2005,"month":7,"date":1,"utc":true},{"year":2006,"month":1,"date":1,"utc":true},{"year":2006,"month":7,"date":1,"utc":true},{"year":2007,"month":1,"date":1,"utc":true},{"year":2007,"month":7,"date":1,"utc":true},{"year":2008,"month":1,"date":1,"utc":true},{"year":2008,"month":7,"date":1,"utc":true},{"year":2009,"month":1,"date":1,"utc":true}],
"labelExpr":"utcmonth(datum.value)==0 && utcyear(datum.value)<2009 ? utcFormat(datum.value,'%Y') : ''"}},
"y":{"field":"v","type":"quantitative","scale":{"domain":[0,350],"nice":false},
"axis":{"title":"Price Index Value","values":[0,50,100,150,200,250,300,350],"tickSize":6,"labelPadding":6,"labelFontSize":12.5,"titleFontSize":14,"titleFontWeight":"normal","titlePadding":13,"domainWidth":1,"gridWidth":1,
"gridColor":{"condition":{"test":"datum.value===350","value":"#808080"},"value":"#000000"}}},
"color":{"field":"s","type":"nominal","scale":{"domain":["Corn","Soybeans","Wheat","Hay","Barley"],"range":["#000000","#FFFF00","#00FFFF","#0000FF","#FF0000"]},
"legend":{"orient":"none","legendX":49,"legendY":385,"direction":"horizontal","title":" ","titleOrient":"left","titlePadding":12,"symbolType":"stroke","symbolSize":729,"symbolStrokeWidth":2.5,"labelFontSize":14,"labelFont":"Liberation Sans","labelColor":"#000000","labelOffset":1,"columnPadding":39,"padding":5,"strokeColor":"#000000","fillColor":"#FFFFFF"}}
}
}
